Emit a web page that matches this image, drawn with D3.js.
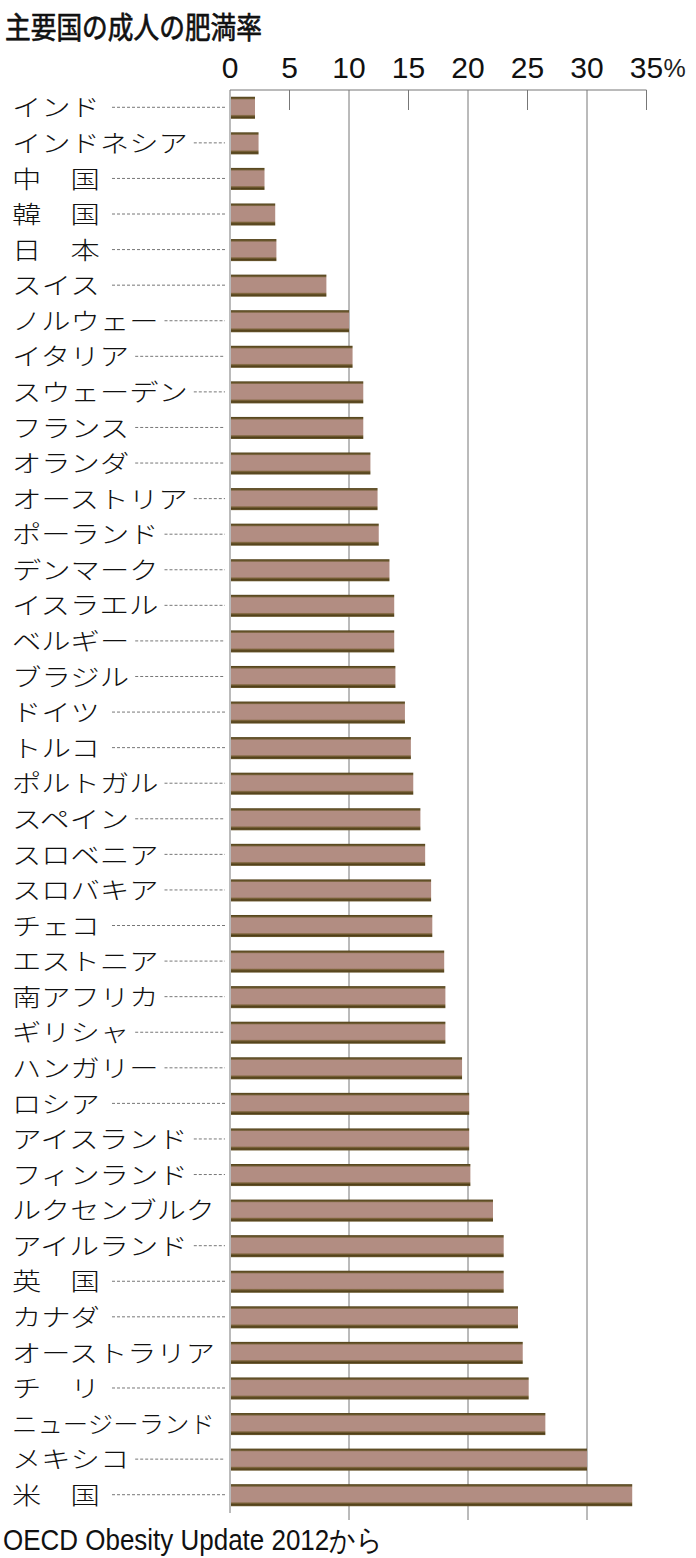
<!DOCTYPE html>
<html>
<head>
<meta charset="utf-8">
<script src="https://cdn.jsdelivr.net/npm/d3@7"></script>
<style>
  body { margin: 0; background: #fff; }
  svg { display: block; }
</style>
</head>
<body>
<svg id="chart"></svg>
<script>
// data
var countries = [
  'インド', 'インドネシア', '中　国', '韓　国', '日　本', 'スイス', 'ノルウェー',
  'イタリア', 'スウェーデン', 'フランス', 'オランダ', 'オーストリア', 'ポーランド',
  'デンマーク', 'イスラエル', 'ベルギー', 'ブラジル', 'ドイツ', 'トルコ', 'ポルトガル',
  'スペイン', 'スロベニア', 'スロバキア', 'チェコ', 'エストニア', '南アフリカ',
  'ギリシャ', 'ハンガリー', 'ロシア', 'アイスランド', 'フィンランド', 'ルクセンブルク',
  'アイルランド', '英　国', 'カナダ', 'オーストラリア', 'チ　リ', 'ニュージーランド',
  'メキシコ', '米　国'
];
var rates = [
  2.1, 2.4, 2.9, 3.8, 3.9, 8.1, 10.0,
  10.3, 11.2, 11.2, 11.8, 12.4, 12.5,
  13.4, 13.8, 13.8, 13.9, 14.7, 15.2, 15.4,
  16.0, 16.4, 16.9, 17.0, 18.0, 18.1,
  18.1, 19.5, 20.1, 20.1, 20.2, 22.1,
  23.0, 23.0, 24.2, 24.6, 25.1, 26.5,
  30.0, 33.8
];
var majorTicks = [0, 10, 20, 30];
var minorTicks = [5, 15, 25, 35];
var tickLabels = [0, 5, 10, 15, 20, 25, 30, 35];

var width = 696, height = 1558;
var numFont = '"Liberation Sans", Arial, sans-serif';
var jpFont = '"Noto Sans CJK JP", sans-serif';
var charW = 29.3; // the labels are set in a wide gothic

var svg = d3.select('#chart')
  .attr('width', width)
  .attr('height', height);

var x = d3.scaleLinear().domain([0, 35]).range([230, 646.5]);
var y = d3.scaleBand()
  .domain(countries)
  .range([90, 1513])
  .paddingInner(0.38)
  .paddingOuter(0.19);

// bar gradient: dark edge top and bottom
var grad = svg.append('defs').append('linearGradient')
  .attr('id', 'barGrad')
  .attr('x1', 0).attr('y1', 0).attr('x2', 0).attr('y2', 1);
[[0, '#4f3f18'], [0.08, '#6d5a30'], [0.14, '#b28d82'], [0.8, '#b28d82'],
 [0.86, '#7a6238'], [0.93, '#4f3f18'], [1, '#6f5c33']].forEach(function(s) {
  grad.append('stop').attr('offset', s[0]).attr('stop-color', s[1]);
});

// title
svg.append('text')
  .attr('x', 5)
  .attr('y', 38)
  .attr('textLength', 257)
  .attr('lengthAdjust', 'spacingAndGlyphs')
  .style('font-family', jpFont)
  .style('font-size', '30px')
  .style('fill', '#111')
  .style('stroke', '#111')
  .style('stroke-width', 0.7)
  .text('主要国の成人の肥満率');

// grid lines
svg.append('g').selectAll('line')
  .data(majorTicks)
  .enter().append('line')
  .attr('x1', function(d) { return x(d); })
  .attr('x2', function(d) { return x(d); })
  .attr('y1', 90)
  .attr('y2', function(d) { return d === 0 ? 1513 : 1520; })
  .style('stroke', '#777')
  .style('stroke-width', 1);

svg.append('g').selectAll('line')
  .data(minorTicks)
  .enter().append('line')
  .attr('x1', function(d) { return x(d); })
  .attr('x2', function(d) { return x(d); })
  .attr('y1', 90)
  .attr('y2', 110)
  .style('stroke', '#777')
  .style('stroke-width', 1);

svg.append('line')
  .attr('x1', x(0)).attr('x2', x(35))
  .attr('y1', 90).attr('y2', 90)
  .style('stroke', '#777')
  .style('stroke-width', 1);

// tick labels
svg.append('g').selectAll('text')
  .data(tickLabels)
  .enter().append('text')
  .attr('x', function(d) { return x(d); })
  .attr('y', 78)
  .style('text-anchor', 'middle')
  .style('font-family', numFont)
  .style('font-size', '30px')
  .style('fill', '#111')
  .text(function(d) { return d; });

svg.append('text')
  .attr('x', x(35) + 17)
  .attr('y', 77)
  .style('font-family', numFont)
  .style('font-size', '25px')
  .style('fill', '#222')
  .text('%');

// country labels, stretched to the reference's wide glyphs
var labels = svg.append('g').selectAll('text')
  .data(countries)
  .enter().append('text')
  .attr('x', 12)
  .attr('y', function(d) { return y(d) + y.bandwidth() / 2; })
  .attr('dy', '0.36em')
  .attr('textLength', function(d) { return Math.min(d.length * charW, 203); })
  .attr('lengthAdjust', 'spacingAndGlyphs')
  .style('font-family', jpFont)
  .style('font-size', '24px')
  .style('font-weight', 300)
  .style('fill', '#111')
  .text(function(d) { return d; });

// dashed leaders
var leaders = countries
  .map(function(d) {
    var end = 12 + Math.min(d.length * charW, 203);
    return { name: d, start: Math.max(112, end + 6) };
  })
  .filter(function(d) { return d.start < 220; });

svg.append('g').selectAll('line')
  .data(leaders)
  .enter().append('line')
  .attr('x1', function(d) { return d.start; })
  .attr('x2', 225)
  .attr('y1', function(d) { return y(d.name) + y.bandwidth() / 2 - 0.5; })
  .attr('y2', function(d) { return y(d.name) + y.bandwidth() / 2 - 0.5; })
  .style('stroke', '#777')
  .style('stroke-width', 1)
  .style('stroke-dasharray', '3,2');

// bars
svg.append('g').selectAll('rect')
  .data(rates)
  .enter().append('rect')
  .attr('x', x(0) + 1)
  .attr('y', function(d, i) { return y(countries[i]); })
  .attr('width', function(d) { return x(d) - x(0) - 1; })
  .attr('height', y.bandwidth())
  .style('fill', 'url(#barGrad)');

// source
svg.append('text')
  .attr('x', 3)
  .attr('y', 1550)
  .attr('textLength', 380)
  .attr('lengthAdjust', 'spacingAndGlyphs')
  .style('font-family', numFont)
  .style('font-size', '29px')
  .style('fill', '#111')
  .text('OECD Obesity Update 2012から');
</script>
</body>
</html>
